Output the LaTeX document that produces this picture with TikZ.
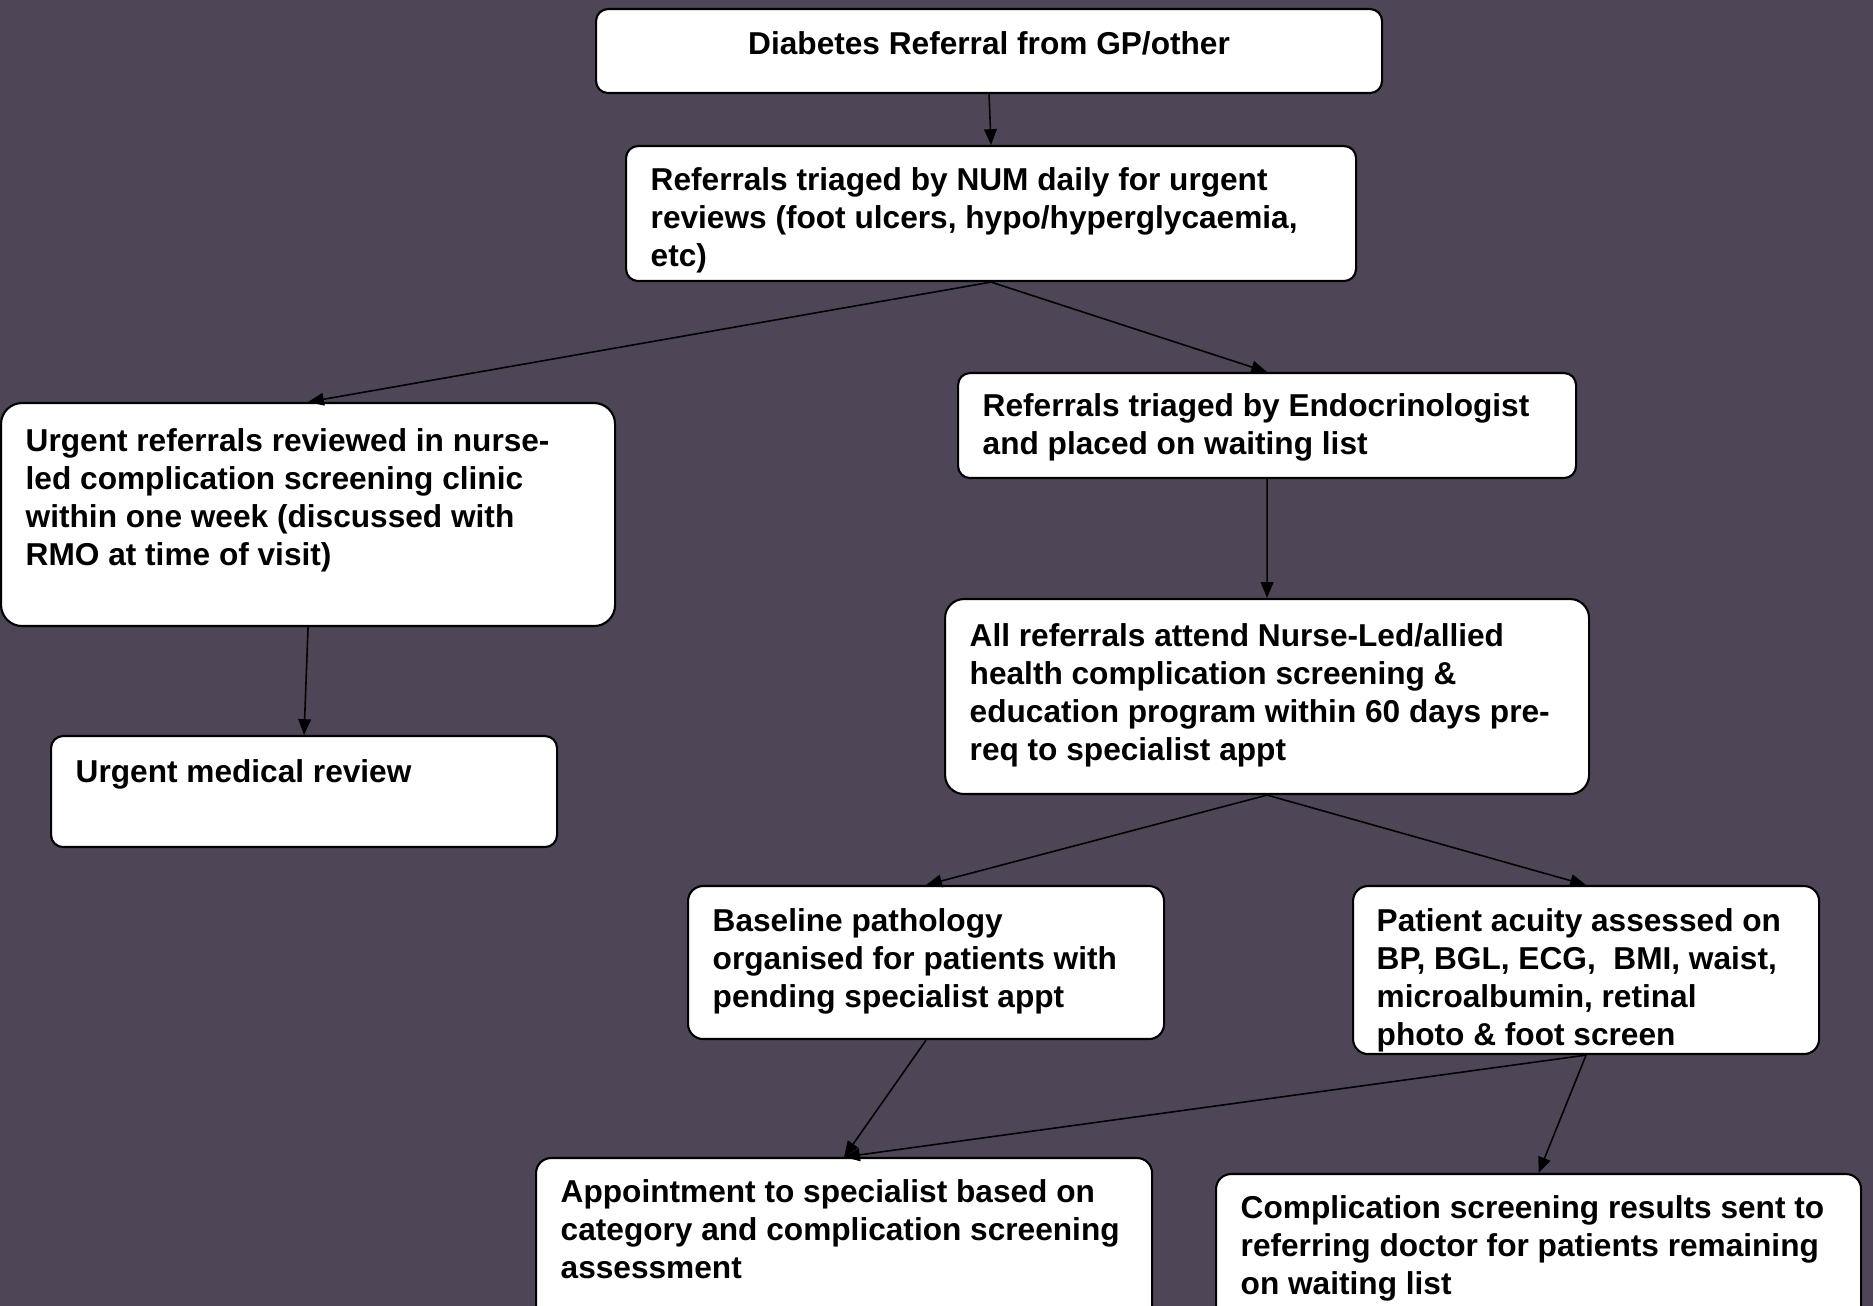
\documentclass[tikz,border=0pt]{standalone}
\usepackage{fontspec}
\setmainfont{Liberation Sans}
\usetikzlibrary{arrows.meta}
\definecolor{hintergrund}{RGB}{78,70,87}

\begin{document}
\begin{tikzpicture}[>={Triangle[length=4.5pt,width=3.6pt]}]
  \tikzstyle{box}=[draw,fill=white,rounded corners=0.12cm,line width=0.6pt,anchor=north west,inner sep=0]
  \tikzstyle{box text}=[anchor=north west,inner sep=0,align=left,font=\fontsize{9}{10.8}\selectfont\bfseries,execute at begin node=\strut]
  \tikzstyle{flow}=[->,line width=0.45pt]

  % Hintergrund
  \fill[hintergrund] (0,0) rectangle (18.73,-13.06);
  \useasboundingbox (0,0) rectangle (18.73,-13.06);
  \clip (0,0) rectangle (18.73,-13.06);

  % Ueberweisung und Triage
  \node[box,minimum width=7.86cm,minimum height=0.84cm] (gp) at (5.95,-0.08) {};
  \node[box text,anchor=north] (gp text) at ([yshift=-0.19cm]gp.north) {Diabetes Referral from GP/other};
  \node[box,minimum width=7.30cm,minimum height=1.35cm] (num) at (6.25,-1.45) {};
  \node[box text] (num text) at ([shift={(0.25,-0.22)}]num.north west)
    {Referrals triaged by NUM daily for urgent\\reviews (foot ulcers, hypo/hyperglycaemia,\\etc)};

  % Linker Zweig (dringend)
  \node[box,minimum width=6.14cm,minimum height=2.23cm,rounded corners=0.21cm] (urgent) at (0.0,-4.02) {};
  \node[box text] (urgent text) at ([shift={(0.25,-0.26)}]urgent.north west)
    {Urgent referrals reviewed in nurse-\\led complication screening clinic\\within one week (discussed with\\RMO at time of visit)};
  \node[box,minimum width=5.06cm,minimum height=1.11cm] (medical) at (0.50,-7.35) {};
  \node[box text] (medical text) at ([shift={(0.25,-0.20)}]medical.north west) {Urgent medical review};

  % Rechter Zweig (Warteliste)
  \node[box,minimum width=6.18cm,minimum height=1.05cm] (endo) at (9.57,-3.72) {};
  \node[box text] (endo text) at ([shift={(0.25,-0.21)}]endo.north west)
    {Referrals triaged by Endocrinologist\\and placed on waiting list};
  \node[box,minimum width=6.44cm,minimum height=1.95cm,rounded corners=0.19cm] (all) at (9.44,-5.98) {};
  \node[box text] (all text) at ([shift={(0.25,-0.25)}]all.north west)
    {All referrals attend Nurse-Led/allied\\health complication screening \&\\education program within 60 days pre-\\req to specialist appt};

  % Screening
  \node[box,minimum width=4.76cm,minimum height=1.53cm,rounded corners=0.15cm] (baseline) at (6.87,-8.85) {};
  \node[box text] (baseline text) at ([shift={(0.25,-0.23)}]baseline.north west)
    {Baseline pathology\\organised for patients with\\pending specialist appt};
  \node[box,minimum width=4.66cm,minimum height=1.68cm,rounded corners=0.15cm] (acuity) at (13.52,-8.85) {};
  \node[box text] (acuity text) at ([shift={(0.24,-0.23)}]acuity.north west)
    {Patient acuity assessed on\\BP, BGL, ECG,\ \ BMI, waist,\\microalbumin, retinal\\photo \& foot screen};

  % Ergebnis
  \node[box,minimum width=6.16cm,minimum height=1.70cm,rounded corners=0.15cm] (appt) at (5.35,-11.57) {};
  \node[box text] (appt text) at ([shift={(0.25,-0.22)}]appt.north west)
    {Appointment to specialist based on\\category and complication screening\\assessment};
  \node[box,minimum width=6.45cm,minimum height=1.50cm,rounded corners=0.15cm] (results) at (12.15,-11.73) {};
  \node[box text] (results text) at ([shift={(0.25,-0.22)}]results.north west)
    {Complication screening results sent to\\referring doctor for patients remaining\\on waiting list};

  % Pfeile
  \draw[flow] (gp.south) -- (num.north);
  \draw[flow] (num.south) -- (urgent.north);
  \draw[flow] (num.south) -- (endo.north);
  \draw[flow] (urgent.south) -- (medical.north);
  \draw[flow] (endo.south) -- (all.north);
  \draw[flow] (all.south) -- (baseline.north);
  \draw[flow] (all.south) -- (acuity.north);
  \draw[flow] (baseline.south) -- (appt.north);
  \draw[flow] (acuity.south) -- (appt.north);
  \draw[flow] (acuity.south) -- (results.north);

\end{tikzpicture}
\end{document}
